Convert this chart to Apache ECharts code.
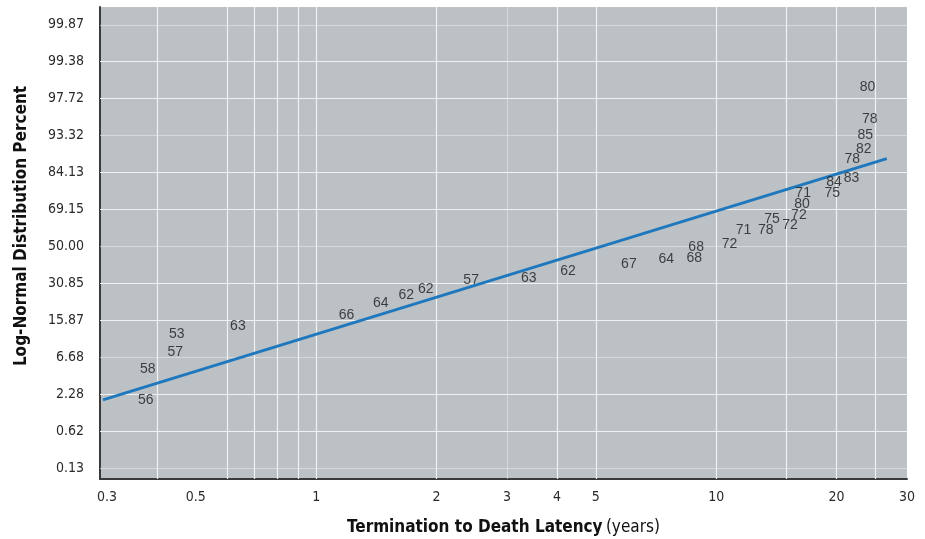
<!DOCTYPE html>
<html>
<head>
<meta charset="utf-8">
<script src="https://cdn.jsdelivr.net/npm/echarts@6/dist/echarts.min.js"></script>
<style>
  html, body { margin: 0; padding: 0; background: #fff; }
  #main { width: 925px; height: 539px; }
</style>
</head>
<body>
<div id="main"></div>
<script>
// latency in years for each case, probit position (z) and the age printed at that point
const latencyYears = [0.375, 0.379, 0.444, 0.448, 0.637, 1.19, 1.45, 1.68, 1.88, 2.44, 3.40, 4.26,
  6.05, 7.50, 8.81, 8.91, 10.8, 11.7, 13.3, 13.8, 15.3, 16.1, 16.4, 16.5, 19.5, 19.7, 21.8, 21.9,
  23.4, 23.6, 24.2, 23.9];
const probitZ = [-2.08, -1.66, -1.42, -1.18, -1.08, -0.92, -0.76, -0.66, -0.57, -0.45, -0.42, -0.33,
  -0.23, -0.17, -0.15, 0.00, 0.04, 0.22, 0.22, 0.37, 0.29, 0.43, 0.58, 0.73, 0.72, 0.87, 0.93, 1.18,
  1.32, 1.51, 1.73, 2.16];
const ageAtDeath = [56, 58, 57, 53, 63, 66, 64, 62, 62, 57, 63, 62,
  67, 64, 68, 68, 72, 71, 78, 75, 72, 72, 80, 71, 75, 84, 83, 78,
  82, 85, 78, 80];

// fitted log-normal line (two end points)
const fitYears = [0.293, 26.7];
const fitZ = [-2.07, 1.19];

// axis ticks
const xTickYears = [0.3, 0.5, 1, 2, 3, 4, 5, 10, 20, 30];
const zTicks = [-3, -2.5, -2, -1.5, -1, -0.5, 0, 0.5, 1, 1.5, 2, 2.5, 3];
const pctLabels = ['0.13', '0.62', '2.28', '6.68', '15.87', '30.85', '50.00', '69.15', '84.13',
  '93.32', '97.72', '99.38', '99.87'];

// grid lines as drawn in the original
const xGridYears = [0.4, 0.6, 0.7, 0.8, 0.9, 1, 2, 4, 5, 10, 15, 20, 25];
const xGridFaint = [3];
const zGrid = [-2.5, -2, -1, -0.5, 0.5, 1, 2, 2.5];
const zGridFaint = [-3, -1.5, 0, 1.5, 3];

const narrow = "'Liberation Sans Narrow', 'DejaVu Sans Condensed', 'Roboto', sans-serif";

const chart = echarts.init(document.getElementById('main'));

const gridLines = [];
xGridYears.forEach(v => gridLines.push({xAxis: v}));
zGrid.forEach(v => gridLines.push({yAxis: v}));
const faintLines = [];
xGridFaint.forEach(v => faintLines.push({xAxis: v}));
zGridFaint.forEach(v => faintLines.push({yAxis: v}));

const points = latencyYears.map((x, i) => [x, probitZ[i], ageAtDeath[i]]);

const option = {
  animation: false,
  backgroundColor: '#ffffff',
  grid: {
    left: 100, right: 18, top: 7, bottom: 60,
    show: true,
    backgroundColor: '#bbc1c5',
    borderWidth: 0,
    outerBoundsMode: 'none'
  },
  xAxis: {
    type: 'log',
    logBase: 10,
    min: 0.288,
    max: 30,
    name: '{b|Termination to Death Latency} {r|(years)}',
    nameLocation: 'middle',
    nameGap: 40,
    nameTextStyle: {
      rich: {
        b: {fontFamily: narrow, fontWeight: 'bold', fontSize: 17, color: '#111'},
        r: {fontFamily: narrow, fontSize: 17, color: '#111'}
      }
    },
    axisLine: {show: true, onZero: false, lineStyle: {color: '#3a3a3a', width: 2}},
    axisTick: {show: false},
    splitLine: {show: false},
    minorSplitLine: {show: false},
    axisLabel: {
      customValues: xTickYears,
      margin: 11,
      fontFamily: narrow,
      fontSize: 14,
      color: '#2a2a2a',
      formatter: v => String(+v.toPrecision(3))
    }
  },
  yAxis: {
    type: 'value',
    min: -3.14,
    max: 3.24,
    name: 'Log-Normal Distribution Percent',
    nameLocation: 'middle',
    nameGap: 70,
    nameTextStyle: {
      fontFamily: narrow, fontWeight: 'bold', fontSize: 17, color: '#111',
      padding: [0, 0, 0, 34]
    },
    axisLine: {show: true, onZero: false, lineStyle: {color: '#3a3a3a', width: 2}},
    axisTick: {show: false},
    splitLine: {show: false},
    axisLabel: {
      customValues: zTicks,
      margin: 16,
      fontFamily: narrow,
      fontSize: 14,
      color: '#2a2a2a',
      formatter: v => pctLabels[zTicks.indexOf(Math.round(v * 2) / 2)]
    }
  },
  series: [
    {
      // grid lines + fitted line
      type: 'line',
      data: fitYears.map((x, i) => [x, fitZ[i]]),
      showSymbol: false,
      symbol: 'none',
      lineStyle: {color: '#1f78bd', width: 3},
      z: 5,
      silent: true,
      markLine: {
        silent: true,
        symbol: ['none', 'none'],
        label: {show: false},
        lineStyle: {color: '#f2f4f5', width: 1.2, type: 'solid', opacity: 0.95},
        z: 1,
        data: gridLines
      }
    },
    {
      type: 'line',
      data: [],
      silent: true,
      markLine: {
        silent: true,
        symbol: ['none', 'none'],
        label: {show: false},
        lineStyle: {color: '#e6e9eb', width: 1, type: 'solid', opacity: 0.6},
        z: 1,
        data: faintLines
      }
    },
    {
      // ages printed at each point
      type: 'scatter',
      data: points,
      symbolSize: 2,
      itemStyle: {color: 'rgba(0,0,0,0)'},
      silent: true,
      z: 6,
      labelLayout: {hideOverlap: false},
      label: {
        show: true,
        position: 'inside',
        fontFamily: "'Liberation Sans', Arial, sans-serif",
        fontSize: 14,
        color: '#1a1a1a',
        formatter: p => p.value[2]
      }
    }
  ]
};

chart.setOption(option);
</script>
</body>
</html>
